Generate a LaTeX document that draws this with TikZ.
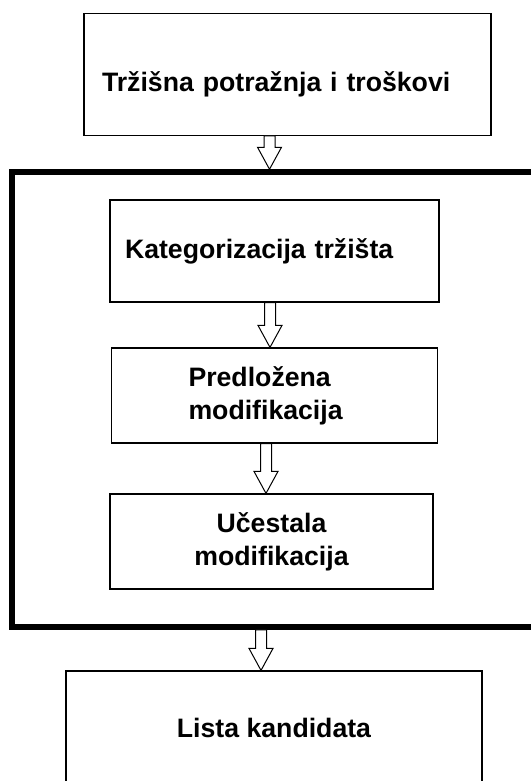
\documentclass[tikz,border=0pt]{standalone}
\usepackage{fontspec}
\setmainfont{Liberation Sans}
\usetikzlibrary{positioning,calc}

\tikzset{
  box/.style={draw,rectangle,line width=1.2pt,inner sep=0pt,align=center,
    font=\bfseries\fontsize{26.67pt}{33pt}\selectfont},
  frame/.style={draw,rectangle,line width=5.5pt,inner sep=0pt},
  hollow/.style={draw,line width=1pt,fill=white,line join=miter}
}
% hollow block arrow: x shift, from node, to node
\newcommand{\blockarrow}[3]{%
  \draw[hollow] let \p1=($(#2.south)+(#1,0)$), \p2=(#3.north) in
    (\x1-5.5pt,\y1) -- (\x1-5.5pt,\y2+22pt) -- (\x1-12pt,\y2+22pt) -- (\x1,\y2)
    -- (\x1+12pt,\y2+22pt) -- (\x1+5.5pt,\y2+22pt) -- (\x1+5.5pt,\y1) -- cycle;}

\begin{document}
\begin{tikzpicture}[x=1pt,y=-1pt,on grid]
  \useasboundingbox (0,0) rectangle (530,781);
  \node[box,minimum width=407pt,minimum height=121.5pt,text width=371pt,align=left,
        text height=40pt,text depth=6pt] (T) at (287.5,74.5) {Tržišna potražnja i troškovi};
  \node[frame,minimum width=548pt,minimum height=455pt] (F) at (286,399.5) {};
  \node[box,minimum width=329pt,minimum height=102pt,text width=299pt,align=left]
        (K) [below left=176.5pt and 13pt of T] {Kategorizacija tržišta};
  \node[box,minimum width=326pt,minimum height=95pt,text width=172pt,align=left]
        (P) [below=144.5pt of K] {Predložena\\modifikacija};
  \node[box,minimum width=323pt,minimum height=95pt]
        (U) [below left=146pt and 3pt of P] {Učestala\\modifikacija};
  \node[box,minimum width=416pt,minimum height=114pt]
        (L) [below right=186.5pt and 2.5pt of U] {Lista kandidata};
  \blockarrow{-18pt}{T}{F}
  \blockarrow{-4.5pt}{K}{P}
  \blockarrow{-8.5pt}{P}{U}
  \blockarrow{-25pt}{F}{L}
\end{tikzpicture}
\end{document}
